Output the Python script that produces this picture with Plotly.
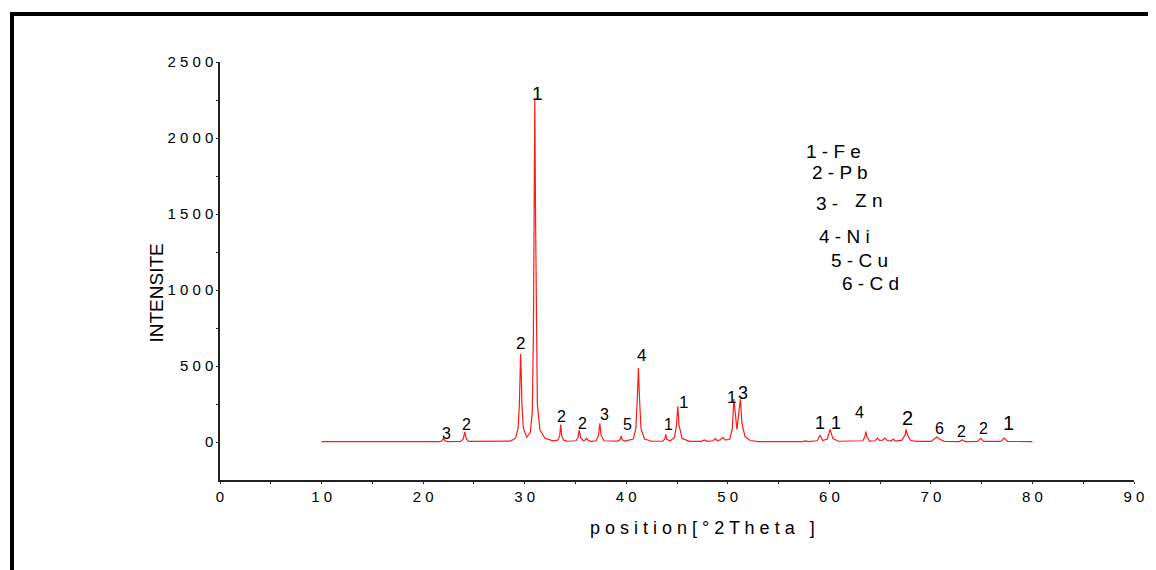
import plotly.graph_objects as go

# XRD pattern: points (2theta, intensity)
two_theta = [10.0, 21.6, 21.85, 22.0, 22.15, 22.4, 23.7, 23.95, 24.1, 24.25, 24.5,
             28.6, 29.1, 29.35, 29.48, 29.55, 29.6, 29.65, 29.73, 29.87, 30.2,
             30.55, 30.75, 30.86, 30.93, 31.0, 31.07, 31.14, 31.25, 31.5, 32.0, 32.8,
             33.25, 33.45, 33.55, 33.65, 33.85, 34.2,
             35.05, 35.25, 35.37, 35.5, 35.75, 35.95, 36.1, 36.25, 36.6,
             37.05, 37.28, 37.4, 37.52, 37.8, 39.2, 39.4, 39.5, 39.6, 39.85,
             40.7, 40.95, 41.1, 41.2, 41.3, 41.45, 41.8, 42.5,
             43.6, 43.8, 43.9, 44.0, 44.3, 44.75, 44.95, 45.08, 45.2, 45.5, 46.2,
             47.4, 47.7, 48.0, 48.55, 48.76, 48.95, 49.25, 49.5, 49.75,
             50.2, 50.45, 50.6, 50.75, 50.9, 51.05, 51.24, 51.4, 51.7, 52.2, 53.0,
             57.35, 57.65, 57.95, 58.8, 59.09, 59.35, 59.8, 60.07, 60.35, 60.9,
             63.3, 63.5, 63.6, 63.7, 63.95, 64.5, 64.73, 64.95, 65.25, 65.46, 65.7,
             66.1, 66.3, 66.5, 67.15, 67.45, 67.57, 67.7, 68.0, 68.6,
             70.0, 70.35, 70.58, 70.85, 71.3, 72.8, 73.1, 73.4, 74.6, 74.9, 75.2,
             76.9, 77.23, 77.55, 80.0]
intensity = [2, 2, 8, 24, 8, 3, 4, 20, 66, 20, 4,
             6, 25, 90, 250, 480, 579, 480, 250, 90, 32,
             60, 200, 700, 1500, 2260, 1500, 700, 250, 80, 25, 8,
             12, 40, 114, 40, 12, 5,
             8, 30, 79, 30, 10, 12, 24, 10, 4,
             8, 45, 123, 45, 8, 6, 16, 40, 16, 6,
             20, 90, 300, 487, 300, 90, 20, 5,
             6, 20, 50, 18, 6, 30, 110, 235, 110, 25, 4,
             4, 13, 4, 8, 24, 10, 14, 31, 12,
             20, 90, 283, 170, 83, 170, 281, 120, 35, 10, 3,
             2, 7, 2, 8, 44, 10, 20, 83, 22, 5,
             8, 35, 68, 35, 6, 8, 26, 10, 12, 26, 10,
             8, 19, 6, 12, 45, 83, 45, 10, 4,
             4, 20, 33, 20, 4, 3, 13, 3, 4, 24, 4,
             4, 26, 4, 2]

# peak labels (phase index) with their label positions
label_text = ["3", "2", "2", "1", "2", "2", "3", "5", "4", "1", "1", "1", "3",
              "1", "1", "4", "2", "6", "2", "2", "1"]
label_x = [22.3, 24.3, 29.6, 31.3, 33.6, 35.7, 37.9, 40.1, 41.5, 44.2, 45.6, 50.4, 51.5,
           59.1, 60.7, 63.0, 67.7, 70.8, 73.0, 75.2, 77.6]
label_y = [59, 118, 645, 2290, 171, 125, 178, 112, 566, 112, 263, 296, 322,
           125, 125, 197, 158, 86, 66, 86, 125]
label_size = [16, 16, 17, 19, 16, 16, 16, 16, 17, 16, 17, 17, 18,
              18, 18, 16, 20, 16, 16, 16, 20]

# legend of phases
legend_text = ["1 - F e", "2 - P b", "3 -", "Z n", "4 - N i", "5 - C u", "6 - C d"]
legend_x = [57.5, 58.08, 58.48, 62.33, 58.78, 59.96, 61.05]
legend_y = [1908, 1770, 1566, 1586, 1355, 1191, 1046]

x_ticks = [0, 10, 20, 30, 40, 50, 60, 70, 80, 90]
y_ticks = [0, 500, 1000, 1500, 2000, 2500]


def spaced(s):
    return " ".join(list(s))


FONT = "Liberation Sans, Arial, sans-serif"

# the page body adds an 8px margin, so the figure is sized/placed to compensate
PW, PH = 914, 418  # plot area size in px

fig = go.Figure()
fig.add_trace(go.Scatter(x=two_theta, y=intensity, mode="lines",
                         line=dict(color="#ff1a1a", width=1.2),
                         hoverinfo="x+y", showlegend=False))

annotations = []
for t, x, y, s in zip(label_text, label_x, label_y, label_size):
    annotations.append(dict(x=x, y=y, xref="x", yref="y", text=t, showarrow=False,
                            xanchor="center", yanchor="middle",
                            font=dict(family=FONT, size=s, color="black")))
for t, x, y in zip(legend_text, legend_x, legend_y):
    annotations.append(dict(x=x, y=y, xref="x", yref="y", text=t, showarrow=False,
                            xanchor="left", yanchor="middle",
                            font=dict(family=FONT, size=19, color="black")))
# axis titles
annotations.append(dict(x=(702 - 220) / PW, y=(480 - 528) / PH, xref="paper", yref="paper",
                        text="p o s i t i o n [ ° 2 T h e t a &nbsp; ]", showarrow=False,
                        xanchor="center", yanchor="middle",
                        font=dict(family=FONT, size=18, color="black")))
annotations.append(dict(x=(155.5 - 220) / PW, y=(480 - 293) / PH, xref="paper", yref="paper",
                        text="INTENSITE", textangle=-90, showarrow=False,
                        xanchor="center", yanchor="middle",
                        font=dict(family=FONT, size=19, color="black")))

shapes = [
    dict(type="line", xref="paper", yref="paper", x0=(10 - 220) / PW, x1=(1170 - 220) / PW,
         y0=(480 - 14) / PH, y1=(480 - 14) / PH, line=dict(color="black", width=4)),
    dict(type="line", xref="paper", yref="paper", x0=(12 - 220) / PW, x1=(12 - 220) / PW,
         y0=(480 - 12) / PH, y1=(480 - 580) / PH, line=dict(color="black", width=4)),
]

fig.update_layout(
    width=1148, height=562,
    margin=dict(l=212, r=22, t=54, b=90),
    paper_bgcolor="white", plot_bgcolor="white",
    font=dict(family=FONT, color="black"),
    annotations=annotations, shapes=shapes,
    xaxis=dict(range=[0, 90], tickvals=x_ticks, ticktext=[spaced(str(v)) for v in x_ticks],
               showgrid=False, zeroline=False, showline=True, linecolor="#222", linewidth=1.5,
               ticks="outside", ticklen=2, tickcolor="#222", tickfont=dict(size=15, family=FONT),
               minor=dict(tickvals=[5, 15, 25, 35, 45, 55, 65, 75, 85], ticks="outside", ticklen=2,
                          tickcolor="#222"),
               fixedrange=True),
    yaxis=dict(range=[-250, 2500], tickvals=y_ticks, ticktext=[spaced(str(v)) for v in y_ticks],
               showgrid=False, zeroline=False, showline=True, linecolor="#222", linewidth=1.5,
               ticks="outside", ticklen=2, tickcolor="#222", tickfont=dict(size=15, family=FONT),
               minor=dict(tickvals=[250, 750, 1250, 1750, 2250], ticks="outside", ticklen=2,
                          tickcolor="#222"),
               fixedrange=True),
)

fig.write_html("out.html")
